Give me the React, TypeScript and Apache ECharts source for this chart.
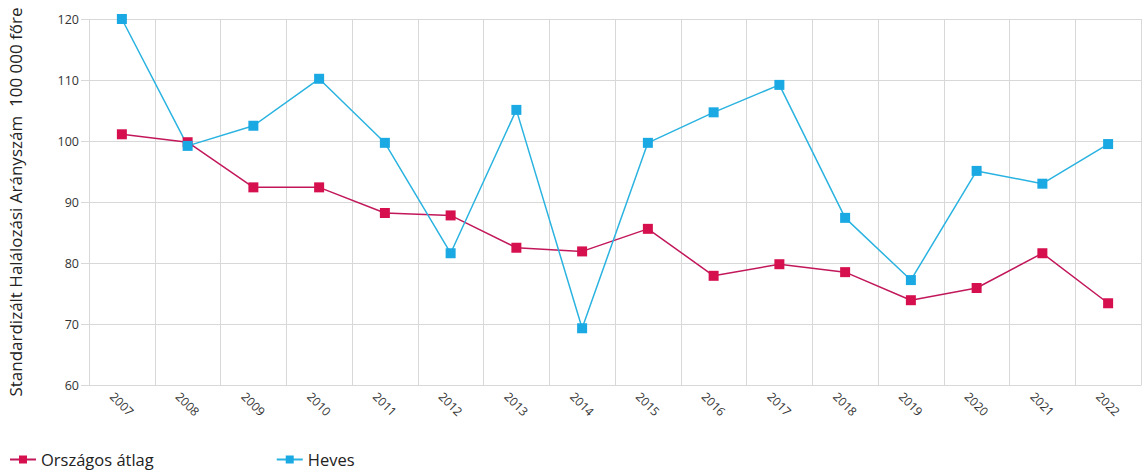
import React, { useEffect, useRef } from "react";
import * as echarts from "echarts";

const years = ["2007","2008","2009","2010","2011","2012","2013","2014","2015","2016","2017","2018","2019","2020","2021","2022"];
const orszagos = [101.1, 99.8, 92.4, 92.4, 88.2, 87.8, 82.5, 81.9, 85.6, 77.9, 79.8, 78.5, 73.9, 75.9, 81.6, 73.4];
const heves = [120.0, 99.2, 102.5, 110.2, 99.7, 81.6, 105.1, 69.3, 99.7, 104.7, 109.2, 87.4, 77.2, 95.1, 93.0, 99.5];
const yAxisTitle = "Standardizált Halálozási Arányszám  100 000 főre";

export default function App() {
  const ref = useRef<HTMLDivElement>(null);
  useEffect(() => {
    document.body.style.margin = "0";
    const chart = echarts.init(ref.current!, null, { renderer: "svg" });
    chart.setOption({
      animation: false,
      textStyle: { fontFamily: "Open Sans" },
      grid: { left: 89, right: 1, top: 19, bottom: 88, outerBoundsMode: "none", containLabel: false },
      legend: {
        left: 4,
        bottom: 0,
        itemGap: 122,
        itemWidth: 26,
        itemHeight: 10,
        textStyle: { fontSize: 16.5, color: "#222", fontFamily: "Open Sans" },
        data: ["Országos átlag", "Heves"],
      },
      xAxis: {
        type: "category",
        data: years,
        boundaryGap: true,
        axisLine: { lineStyle: { color: "#d8d8d8" } },
        axisTick: { show: false },
        splitLine: { show: true, lineStyle: { color: "#d8d8d8" } },
        axisLabel: { rotate: -45, fontSize: 12, color: "#333", margin: 19, align: "center", verticalAlign: "middle" },
      },
      yAxis: {
        type: "value",
        min: 60,
        max: 120,
        interval: 10,
        name: yAxisTitle,
        nameLocation: "middle",
        nameGap: 65,
        nameTextStyle: { fontSize: 17, color: "#222", fontFamily: "Open Sans" },
        axisLine: { show: false },
        axisTick: { show: true, length: 8, lineStyle: { color: "#d8d8d8" } },
        splitLine: { lineStyle: { color: "#d8d8d8" } },
        axisLabel: { fontSize: 12.5, color: "#333", margin: 10 },
      },
      series: [
        {
          name: "Országos átlag",
          type: "line",
          data: orszagos,
          symbol: "rect",
          symbolSize: 10,
          itemStyle: { color: "#d6104f" },
          lineStyle: { color: "#c2185b", width: 1.5 },
        },
        {
          name: "Heves",
          type: "line",
          data: heves,
          symbol: "rect",
          symbolSize: 10,
          itemStyle: { color: "#1aa9e3" },
          lineStyle: { color: "#2ab3e0", width: 1.5 },
        },
      ],
    });
    return () => chart.dispose();
  }, []);
  return <div ref={ref} style={{ width: 1142, height: 473 }} />;
}
